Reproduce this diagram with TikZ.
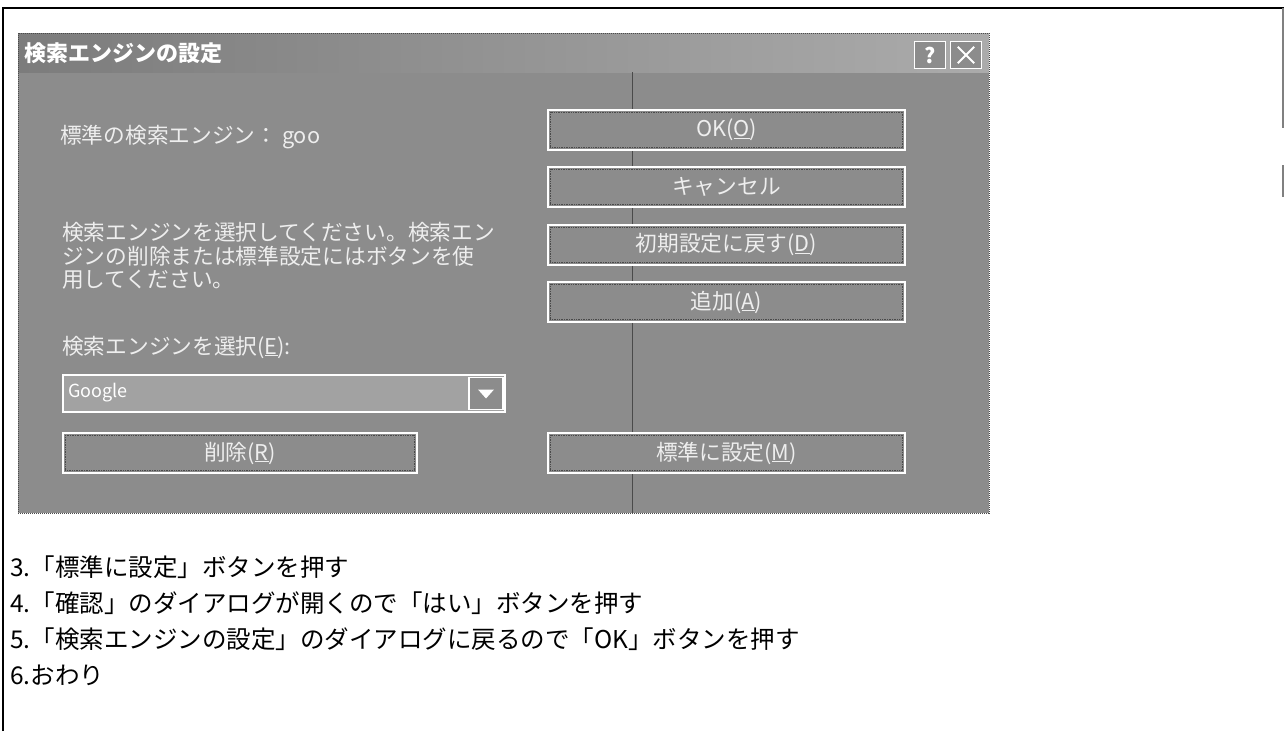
\documentclass[tikz,border=0pt]{standalone}
\usepackage{fontspec}
\newfontfamily\jp{Noto Sans CJK JP}
\definecolor{dlg}{HTML}{8C8C8C}
\definecolor{tbl}{HTML}{7C7C7C}
\definecolor{tbr}{HTML}{ABABAB}
\definecolor{field}{HTML}{A2A2A2}
\definecolor{dlgtext}{HTML}{EEEEEE}
\definecolor{shadowc}{HTML}{4A4A4A}
\begin{document}
\begin{tikzpicture}[x=1pt,y=-1pt,
  dlgtxt/.style={text=dlgtext, font=\jp\fontsize{21.7}{24}\selectfont, anchor=west, inner sep=0pt},
  btn/.style={draw=white, line width=1.6pt, fill=dlg, text=dlgtext, font=\jp\fontsize{21.7}{24}\selectfont, inner sep=0pt, minimum height=40pt},
  btninner/.style={draw=shadowc, line width=0.7pt, densely dotted},
  bodytxt/.style={text=black, font=\jp\fontsize{24.5}{28}\selectfont, anchor=west, inner sep=0pt},
  tbbtn/.style={draw=white, line width=1.4pt, fill=dlg, text=white, font=\jp\bfseries\fontsize{21}{22}\selectfont, inner sep=0pt, minimum width=31pt, minimum height=27pt},
  frame/.style={draw=black, line width=1.4pt}
]
\useasboundingbox (0,0) rectangle (1284,731);
\fill[white] (0,0) rectangle (1284,731);

% outer frame
\draw[frame] (3,731) -- (3,8) -- (1284,8);
\draw[draw=gray, line width=1.4pt] (1283,8) -- (1283,128);
\draw[draw=gray, line width=1.4pt] (1283,165) -- (1283,197);

% dialog body
\fill[dlg] (18,33) rectangle (989,513);
\shade[left color=tbl, right color=tbr] (18,33) rectangle (989,72);
\draw[draw=shadowc, line width=1pt, densely dotted] (18,33) rectangle (989,513);
\draw[draw=shadowc, line width=0.6pt] (632,72) -- (632,513);

% title
\node[anchor=west, inner sep=0pt, text=white, font=\jp\bfseries\fontsize{22}{24}\selectfont] (title) at (24,53) {検索エンジンの設定};
\node[tbbtn] (help) at (930,55) {?};
\node[tbbtn] (close) at (966,55) {};
\draw[white, line width=2pt] ([shift={(8,6)}]close.north west) -- ([shift={(-8,-6)}]close.south east);
\draw[white, line width=2pt] ([shift={(8,-6)}]close.south west) -- ([shift={(-8,6)}]close.north east);

% left texts
\node[dlgtxt] (cur) at (60,137) {標準の検索エンジン： goo};
\node[dlgtxt] (p1) at (62,232) {検索エンジンを選択してください。検索エン};
\node[dlgtxt] (p2) at (62,256) {ジンの削除または標準設定にはボタンを使};
\node[dlgtxt] (p3) at (62,280) {用してください。};
\node[dlgtxt] (sel) at (62,347) {検索エンジンを選択(\underline{E}):};

% combo box
\node[draw=white, line width=1.6pt, fill=field, minimum width=442pt, minimum height=37pt, inner sep=0pt] (combo) at (284,393.5) {};
\node[dlgtxt, font=\jp\fontsize{18}{20}\selectfont, text=white] (google) at (68,393) {Google};
\node[draw=white, line width=1.4pt, fill=dlg, minimum width=34pt, minimum height=32pt, inner sep=0pt] (drop) at (486,393.5) {};
\fill[white] ([shift={(-8,-4)}]drop.center) -- ([shift={(8,-4)}]drop.center) -- ([shift={(0,5)}]drop.center) -- cycle;

% buttons
\node[btn, minimum width=357pt] (ok) at (726.5,130) {OK(\underline{O})};
\node[btn, minimum width=357pt] (cancel) at (726.5,187) {キャンセル};
\node[btn, minimum width=357pt] (init) at (726.5,245) {初期設定に戻す(\underline{D})};
\node[btn, minimum width=357pt] (add) at (726.5,302) {追加(\underline{A})};
\node[btn, minimum width=357pt] (std) at (726.5,453) {標準に設定(\underline{M})};
\node[btn, minimum width=354pt] (del) at (240,453) {削除(\underline{R})};
\foreach \n in {ok,cancel,init,add,std,del}{
  \draw[btninner] ([shift={(3,3)}]\n.north west) rectangle ([shift={(-3,-3)}]\n.south east);
}

% steps
\node[bodytxt] (s3) at (10,567) {3.「標準に設定」ボタンを押す};
\node[bodytxt] (s4) at (10,603) {4.「確認」のダイアログが開くので「はい」ボタンを押す};
\node[bodytxt] (s5) at (10,639) {5.「検索エンジンの設定」のダイアログに戻るので「OK」ボタンを押す};
\node[bodytxt] (s6) at (10,675) {6.おわり};
\end{tikzpicture}
\end{document}
